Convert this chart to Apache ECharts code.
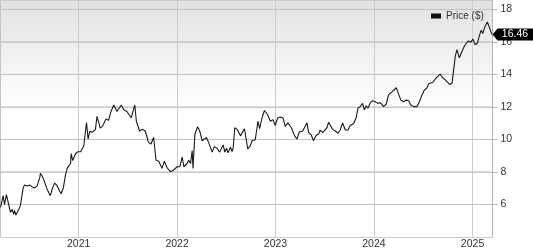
<!DOCTYPE html>
<html>
<head>
<meta charset="utf-8">
<script src="https://cdn.jsdelivr.net/npm/echarts@6/dist/echarts.min.js"></script>
<style>html,body{margin:0;padding:0;background:#fff;}#c{width:533px;height:250px;}</style>
</head>
<body>
<div id="c"></div>
<script>
var dates = [
'2020-03-17','2020-03-27','2020-04-01','2020-04-08','2020-04-23','2020-04-29','2020-05-05','2020-05-08','2020-05-13','2020-05-24','2020-05-30',
'2020-06-09','2020-06-14','2020-06-24','2020-07-03','2020-07-13','2020-07-22','2020-07-31','2020-08-10','2020-08-12','2020-08-19','2020-08-25',
'2020-09-04','2020-09-12','2020-09-18','2020-09-26','2020-10-04','2020-10-13','2020-10-22','2020-10-28','2020-11-05','2020-11-13','2020-11-19',
'2020-12-02','2020-12-04','2020-12-10','2020-12-20','2020-12-29',
'2021-01-08','2021-01-14','2021-01-20','2021-01-30','2021-02-05','2021-02-11','2021-02-20','2021-03-04','2021-03-10','2021-03-22','2021-03-31',
'2021-04-12','2021-04-22','2021-05-01','2021-05-11','2021-05-23','2021-06-08','2021-06-17','2021-06-29','2021-07-15','2021-07-28','2021-08-03',
'2021-08-15','2021-08-24','2021-09-05','2021-09-17','2021-09-26','2021-10-06','2021-10-15','2021-10-25','2021-11-06','2021-11-15','2021-11-25',
'2021-12-07','2021-12-19',
'2022-01-01','2022-01-11','2022-01-20','2022-01-26','2022-02-07','2022-02-13','2022-02-20','2022-02-26','2022-03-01','2022-03-08','2022-03-18',
'2022-03-26','2022-04-04','2022-04-10','2022-04-20','2022-04-28','2022-05-11','2022-05-19','2022-05-29','2022-06-08','2022-06-21','2022-06-27',
'2022-07-03','2022-07-09','2022-07-18','2022-07-24','2022-07-28','2022-08-03','2022-08-12','2022-08-24','2022-08-30','2022-09-08','2022-09-20',
'2022-09-30','2022-10-06','2022-10-18','2022-10-28','2022-11-03','2022-11-12','2022-11-21','2022-12-03','2022-12-13','2022-12-23','2022-12-31',
'2023-01-09','2023-01-19','2023-01-29','2023-02-06','2023-02-16','2023-02-23','2023-03-01','2023-03-13','2023-03-22','2023-03-30','2023-04-12',
'2023-04-19','2023-04-28','2023-05-04','2023-05-14','2023-05-22','2023-06-01','2023-06-10','2023-06-16','2023-06-25','2023-07-02','2023-07-11',
'2023-07-17','2023-07-23','2023-08-01','2023-08-11','2023-08-21','2023-08-29','2023-09-07','2023-09-17','2023-09-27','2023-10-05','2023-10-18',
'2023-10-27','2023-11-03','2023-11-11','2023-11-20','2023-11-27','2023-12-03','2023-12-10','2023-12-19','2023-12-27',
'2024-01-06','2024-01-16','2024-01-25','2024-02-06','2024-02-16','2024-02-24','2024-03-08','2024-03-14','2024-03-24','2024-04-01','2024-04-10',
'2024-04-20','2024-04-30','2024-05-09','2024-05-17','2024-05-27','2024-06-09','2024-06-18','2024-06-27','2024-07-06','2024-07-16','2024-07-22',
'2024-07-28','2024-08-07','2024-08-16','2024-08-24','2024-09-03','2024-09-13','2024-09-22','2024-09-30','2024-10-08','2024-10-17','2024-10-23',
'2024-10-29','2024-11-04','2024-11-13','2024-11-23','2024-12-01','2024-12-09','2024-12-17','2024-12-26',
'2025-01-02','2025-01-11','2025-01-19','2025-01-27','2025-02-02','2025-02-08','2025-02-17','2025-02-25','2025-03-05','2025-03-14'
];
var prices = [
5.82,6.54,6.0,6.6,5.52,5.7,5.4,5.64,5.34,5.7,5.94,
7.02,7.2,7.14,7.2,7.08,7.02,7.14,7.68,7.92,7.74,7.5,
7.02,6.72,6.54,7.02,7.32,7.14,6.84,6.66,7.02,7.8,8.22,
8.52,9.12,8.7,9.12,9.24,
9.24,9.24,9.6,11.04,10.02,10.5,10.44,10.6,11.42,10.7,10.82,
11.26,11.18,11.72,12.12,11.72,12.12,11.82,11.72,11.32,12.12,11.12,
10.52,10.62,10.52,9.82,9.72,10.12,8.72,8.66,8.22,8.66,8.26,
8.02,8.12,
8.32,8.32,8.92,8.32,8.52,8.72,8.52,9.32,8.22,10.32,10.78,
10.52,9.92,10.02,10.12,9.82,9.22,9.56,9.46,9.22,9.66,9.22,
9.46,9.18,9.52,9.26,9.46,10.72,10.62,10.22,10.18,10.66,9.42,
9.62,9.92,9.98,11.12,10.66,11.32,11.78,11.52,11.12,11.22,10.86,
11.32,11.38,11.32,10.8,11.02,10.86,10.72,10.22,10.02,10.46,10.52,
10.62,11.02,10.42,10.26,9.92,10.26,10.32,10.58,10.42,10.52,10.72,
11.06,11.12,10.62,10.52,10.38,10.58,11.02,10.58,10.58,10.86,10.98,
11.32,11.92,12.02,12.22,11.82,12.06,11.92,12.26,12.38,
12.32,12.22,12.26,12.02,12.18,12.72,12.92,12.98,13.18,12.82,12.42,
12.32,12.42,12.38,12.12,12.02,12.02,12.32,12.72,13.02,13.18,13.42,
13.32,13.52,13.72,13.86,14.02,13.78,13.66,13.52,13.38,13.46,13.52,
15.12,15.52,15.02,15.42,15.72,15.92,16.06,15.98,
16.18,15.82,15.92,16.42,16.72,16.52,16.98,17.22,16.86,16.46
];
var yTicks = [6, 8, 10, 12, 14, 16, 18];
var xStart = '2020-03-17';
var xEnd = '2025-03-16';
var yMin = 4, yMax = 18.5454, yStep = 2;
var seriesName = 'Price ($)';

var data = dates.map(function(d, i){ return [d, prices[i]]; });
var last = data[data.length - 1];
var FONT = 'Liberation Sans, Arial, sans-serif';

// helper series: horizontal grid lines and frame lines, drawn through the axes
var helper = yTicks.map(function(v){
  return {
    name: 'grid' + v, type: 'line', silent: true, z: 1, clip: false,
    showSymbol: false, symbol: 'none',
    lineStyle: {color: '#c4c4c4', width: 1},
    emphasis: {disabled: true}, tooltip: {show: false},
    data: [[xStart, v], [xEnd, v]]
  };
});
helper.push({
  name: 'frameL', type: 'line', silent: true, z: 1, clip: false, showSymbol: false, symbol: 'none',
  lineStyle: {color: '#c4c4c4', width: 1}, emphasis: {disabled: true},
  data: [[xStart, yMin], [xStart, yMax]]
});
helper.push({
  name: 'frameR', type: 'line', silent: true, z: 1, clip: false, showSymbol: false, symbol: 'none',
  lineStyle: {color: '#b4b4b4', width: 1}, emphasis: {disabled: true},
  data: [[xEnd, yMin], [xEnd, yMax]]
});

var chart = echarts.init(document.getElementById('c'), null, {renderer: 'canvas'});
chart.setOption({
  animation: false,
  grid: {left: 0.5, right: 40.5, top: 0.5, bottom: 9.5, containLabel: false, show: false},
  legend: {
    show: true, left: 426, top: 6, itemWidth: 10, itemHeight: 5, itemGap: 4, icon: 'rect',
    textStyle: {fontFamily: FONT, fontSize: 10, color: '#333'},
    data: [{name: seriesName, itemStyle: {color: '#111'}}]
  },
  graphic: [{
    type: 'rect', left: 0, top: 0, z: -10, silent: true,
    shape: {x: 0, y: 0, width: 492, height: 240},
    style: {fill: {type: 'linear', x: 0, y: 0, x2: 0, y2: 1,
      colorStops: [{offset: 0, color: '#e2e2e2'}, {offset: 0.45, color: '#ffffff'}, {offset: 1, color: '#ffffff'}]}}
  }],
  xAxis: {
    type: 'time', min: xStart, max: xEnd,
    minInterval: 365 * 86400000, maxInterval: 366 * 86400000,
    axisLine: {show: false}, axisTick: {show: false},
    axisLabel: {formatter: '{yyyy}', fontFamily: FONT, fontSize: 10.5, color: '#333', margin: 2, showMinLabel: false, showMaxLabel: false},
    splitLine: {show: true, lineStyle: {color: '#cccccc', width: 1}}
  },
  yAxis: {
    type: 'value', position: 'right', min: yMin, max: yMax, interval: yStep,
    axisLine: {show: true, lineStyle: {color: '#b4b4b4'}},
    axisTick: {show: true, length: 5, lineStyle: {color: '#b4b4b4'}},
    axisLabel: {fontFamily: FONT, fontSize: 10.5, color: '#333', margin: 8, showMinLabel: false, showMaxLabel: false},
    splitLine: {show: true, lineStyle: {color: '#cccccc', width: 1, type: 'solid'}}
  },
  series: helper.concat([{
    name: seriesName, type: 'line', data: data, z: 3,
    showSymbol: false, symbol: 'none',
    lineStyle: {color: '#1a1a1a', width: 1.1},
    itemStyle: {color: '#111'},
    markPoint: {
      symbol: 'path://M0,6 L5,0 L41,0 L41,12 L5,12 Z',
      symbolSize: [41, 12], symbolOffset: ['50%', 0], symbolKeepAspect: false,
      itemStyle: {color: '#000'},
      label: {show: true, color: '#fff', fontFamily: FONT, fontSize: 10.5, offset: [2, 0], formatter: function(){ return last[1].toFixed(2); }},
      data: [{coord: [xEnd, last[1]]}]
    }
  }])
});
</script>
</body>
</html>
